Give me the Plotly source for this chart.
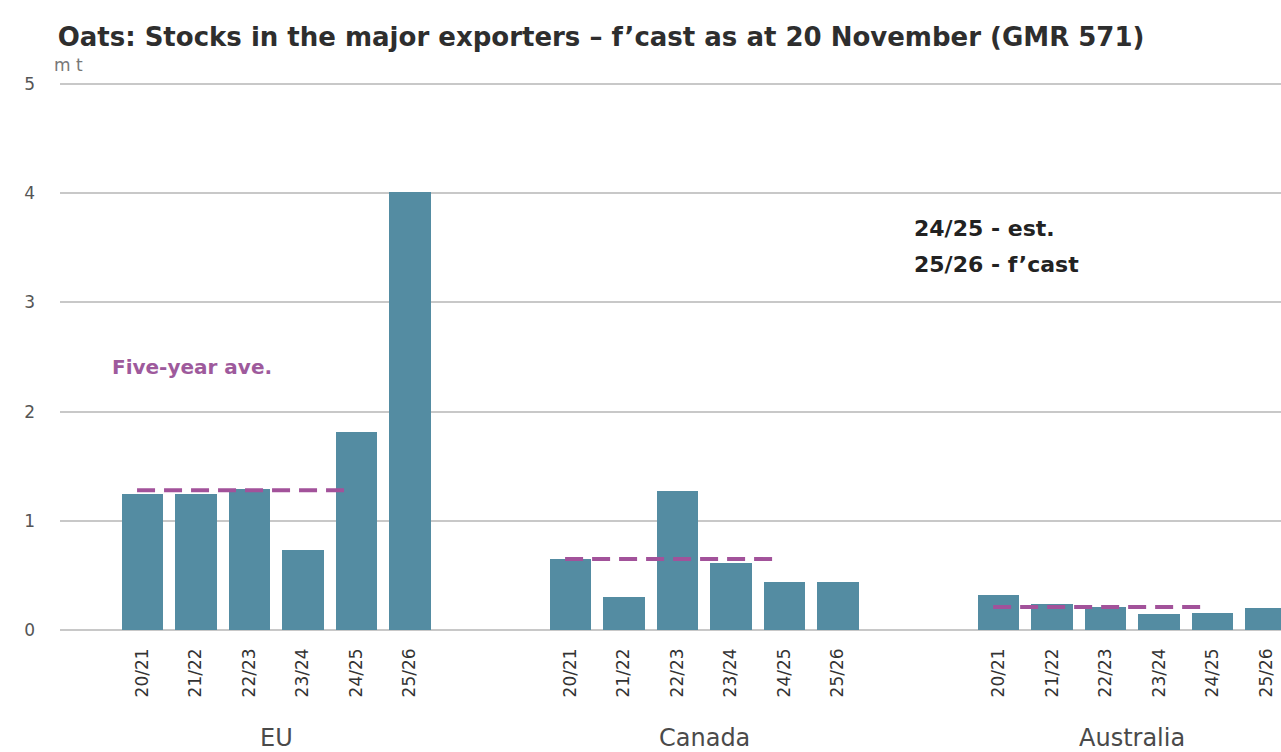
import plotly.graph_objects as go

# Marketing years shown for each exporter
seasons = ["20/21", "21/22", "22/23", "23/24", "24/25", "25/26"]
exporters = ["EU", "Canada", "Australia"]

# Stocks, million tonnes
stocks_eu = [1.25, 1.25, 1.29, 0.73, 1.81, 4.01]
stocks_canada = [0.65, 0.30, 1.27, 0.61, 0.44, 0.44]
stocks_australia = [0.32, 0.24, 0.21, 0.15, 0.16, 0.20]

# Five-year averages (20/21 - 24/25)
five_year_ave = [1.28, 0.65, 0.21]

all_stocks = [stocks_eu, stocks_canada, stocks_australia]

BAR_COLOR = "#548ca2"
AVE_COLOR = "#a2529a"
GRID_COLOR = "#c8c8c8"
GROUP_STEP = 8  # slot offset between exporter groups (6 bars + 2 gap)

fig = go.Figure()

xs, ys, tickvals, ticktext = [], [], [], []
for g, vals in enumerate(all_stocks):
    for i, v in enumerate(vals):
        pos = g * GROUP_STEP + i
        xs.append(pos)
        ys.append(v)
        tickvals.append(pos)
        ticktext.append(seasons[i])

fig.add_trace(go.Bar(x=xs, y=ys, width=0.78, marker=dict(color=BAR_COLOR, line=dict(width=0)),
                     showlegend=False, hoverinfo="y"))

# Dashed five-year average across the first five seasons of each group
for g, ave in enumerate(five_year_ave):
    start = g * GROUP_STEP - 0.1
    end = g * GROUP_STEP + 3.85
    fig.add_trace(go.Scatter(x=[start, end], y=[ave, ave], mode="lines",
                             line=dict(color=AVE_COLOR, width=4, dash="18px,9px"),
                             showlegend=False, hoverinfo="skip"))

annotations = []
for g, name in enumerate(exporters):
    annotations.append(dict(x=g * GROUP_STEP + 2.5, y=-0.198, xref="x", yref="paper",
                            text=name, showarrow=False, xanchor="center", yanchor="middle",
                            font=dict(family="DejaVu Sans", size=24, color="#4a4a4a")))

annotations += [
    dict(x=0, y=1, xref="paper", yref="paper", xshift=-8, yshift=18, text="m t",
         showarrow=False, xanchor="left", yanchor="middle",
         font=dict(family="DejaVu Sans", size=17, color="#777777")),
    dict(x=-0.61, y=2.41, xref="x", yref="y", text="<b>Five-year ave.</b>", showarrow=False,
         xanchor="left", yanchor="middle",
         font=dict(family="DejaVu Sans", size=20, color="#9e5a9c")),
    dict(x=14.38, y=3.68, xref="x", yref="y", text="<b>24/25 - est.</b>", showarrow=False,
         xanchor="left", yanchor="middle",
         font=dict(family="DejaVu Sans", size=22, color="#222222")),
    dict(x=14.38, y=3.35, xref="x", yref="y", text="<b>25/26 - f\u2019cast</b>", showarrow=False,
         xanchor="left", yanchor="middle",
         font=dict(family="DejaVu Sans", size=22, color="#222222")),
]

fig.update_layout(
    width=1281, height=752,
    margin=dict(l=60, r=0, t=83, b=122),
    paper_bgcolor="white", plot_bgcolor="white",
    title=dict(text="<b>Oats: Stocks in the major exporters \u2013 f\u2019cast as at 20 November (GMR 571)</b>",
               x=0.045, xanchor="left", y=0.951, yanchor="middle",
               font=dict(family="DejaVu Sans", size=26, color="#2e2e2e")),
    annotations=annotations,
    bargap=0,
)

fig.update_xaxes(range=[-1.54, 21.28], tickmode="array", tickvals=tickvals, ticktext=ticktext,
                 tickangle=-90, showgrid=False, zeroline=False, showline=False, ticks="",
                 ticklabelstandoff=14,
                 tickfont=dict(family="DejaVu Sans", size=17, color="#333333"))
fig.update_yaxes(range=[0, 5.01], tickvals=[0, 1, 2, 3, 4, 5], showgrid=True, gridcolor=GRID_COLOR,
                 gridwidth=2, zeroline=True, zerolinecolor=GRID_COLOR, zerolinewidth=2,
                 showline=False, ticks="", ticklabelstandoff=24,
                 tickfont=dict(family="DejaVu Sans", size=17, color="#555555"))

fig.write_html("out.html")
